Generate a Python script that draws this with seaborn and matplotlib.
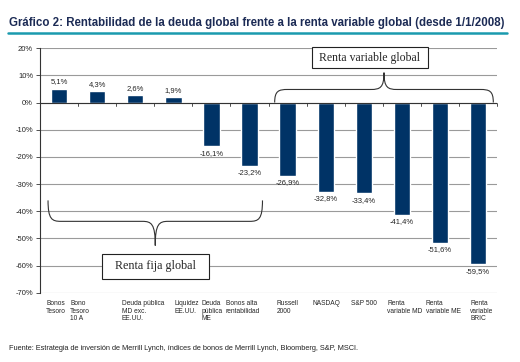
import numpy as np
import pandas as pd
import matplotlib
matplotlib.use("Agg")
import matplotlib.pyplot as plt
import seaborn as sns
from matplotlib.path import Path
from matplotlib.patches import PathPatch

categories = ["Bonos\nTesoro", "Bono\nTesoro\n10 A", "Deuda pública\nMD exc.\nEE.UU.",
              "Liquidez\nEE.UU.", "Deuda\npública\nME", "Bonos alta\nrentabilidad",
              "Russell\n2000", "NASDAQ", "S&P 500", "Renta\nvariable MD",
              "Renta\nvariable ME", "Renta\nvariable\nBRIC"]
values = [5.1, 4.3, 2.6, 1.9, -16.1, -23.2, -26.9, -32.8, -33.4, -41.4, -51.6, -59.5]
value_labels = ["5,1%", "4,3%", "2,6%", "1,9%", "-16,1%", "-23,2%", "-26,9%",
                "-32,8%", "-33,4%", "-41,4%", "-51,6%", "-59,5%"]
yticks = list(range(-70, 21, 10))
title = "Gráfico 2: Rentabilidad de la deuda global frente a la renta variable global (desde 1/1/2008)"
source = "Fuente: Estrategia de inversión de Merrill Lynch, índices de bonos de Merrill Lynch, Bloomberg, S&P, MSCI."

# horizontal shift of each category label, in category widths (layout only)
label_shift = [-0.34, -0.71, -0.36, 0.04, -0.25, -0.63, -0.29, -0.34, -0.34, -0.39, -0.37, -0.21]

sns.set_theme(style="white")
plt.rcParams["font.family"] = ["Liberation Sans", "DejaVu Sans"]

df = pd.DataFrame({"cat": categories, "val": values})
fig = plt.figure(figsize=(5.2, 3.62), dpi=100)
ax = fig.add_axes([0.077, 0.191, 0.879, 0.676])
sns.barplot(data=df, x="cat", y="val", color="#003366", saturation=1, width=0.43, ax=ax)

ax.set_ylim(-70, 20)
ax.set_xlim(-0.5, len(categories) - 0.5)
ax.set_yticks(yticks)
ax.set_yticklabels([f"{t}%" for t in yticks], fontsize=5.5)
ax.yaxis.grid(True, color="#9a9a9a", lw=0.8)
ax.set_axisbelow(True)
for s in ["top", "right", "bottom"]:
    ax.spines[s].set_visible(False)
ax.spines["left"].set_color("#333333")
ax.spines["left"].set_linewidth(0.8)
ax.tick_params(axis="y", length=3, width=0.6, color="#333333", pad=2, left=True)
ax.set_xticks([])
ax.set_xlabel("")
ax.set_ylabel("")
ax.axhline(0, color="#333333", lw=0.8, zorder=3)
for i in range(len(categories) + 1):
    ax.plot([i - 0.5, i - 0.5], [0, -1.3], color="#333333", lw=0.6, zorder=3, clip_on=False)

for i, (v, lab) in enumerate(zip(values, value_labels)):
    if v >= 0:
        ax.text(i, v + 1.2, lab, ha="center", va="bottom", fontsize=5.5)
    else:
        ax.text(i, v - 1.2, lab, ha="center", va="top", fontsize=5.5)

for i, c in enumerate(categories):
    ax.text(i + label_shift[i], -72.8, c, ha="left", va="top", fontsize=4.8, linespacing=1.1)

def brace(ax, x0, x1, yend, yflat, ytip, lw=0.8):
    xm = (x0 + x1) / 2
    d = yflat - yend
    t = ytip - yflat
    w = (x1 - x0)
    c = 0.06 * w
    verts = [(x0, yend), (x0, yend + d * 0.9), (x0 + c * 0.3, yflat), (x0 + c, yflat),
             (xm - c, yflat),
             (xm - c * 0.3, yflat), (xm, yflat + t * 0.1), (xm, ytip),
             (xm, yflat + t * 0.1), (xm + c * 0.3, yflat), (xm + c, yflat),
             (x1 - c, yflat),
             (x1 - c * 0.3, yflat), (x1, yend + d * 0.9), (x1, yend)]
    codes = [Path.MOVETO, Path.CURVE4, Path.CURVE4, Path.CURVE4, Path.LINETO,
             Path.CURVE4, Path.CURVE4, Path.CURVE4,
             Path.CURVE4, Path.CURVE4, Path.CURVE4, Path.LINETO,
             Path.CURVE4, Path.CURVE4, Path.CURVE4]
    ax.add_patch(PathPatch(Path(verts, codes), fc="none", ec="#333333", lw=lw, zorder=4, clip_on=False))

brace(ax, -0.29, 5.34, -36, -43.7, -52.6)
brace(ax, 5.66, 11.4, 0, 4.8, 11.0)

ax.text(2.53, -60.3, "  Renta fija global  ", ha="center", va="center", fontsize=8.7,
        family=["Liberation Serif", "DejaVu Serif"],
        bbox=dict(boxstyle="square,pad=0.55", fc="white", ec="#222222", lw=0.8), zorder=5)
ax.text(8.16, 16.5, " Renta variable global ", ha="center", va="center", fontsize=8.5,
        family=["Liberation Serif", "DejaVu Serif"],
        bbox=dict(boxstyle="square,pad=0.4", fc="white", ec="#222222", lw=0.8), zorder=5)

fig.text(0.017, 0.937, title, ha="left", va="center", fontsize=8.3, fontweight="bold", color="#1c2b55")
fig.add_artist(plt.Line2D([0.015, 0.975], [0.909, 0.909], color="#1a9aae", lw=1.8))
fig.text(0.017, 0.036, source, ha="left", va="center", fontsize=5.3, color="#222222")

fig.savefig("out.png", dpi=100)
